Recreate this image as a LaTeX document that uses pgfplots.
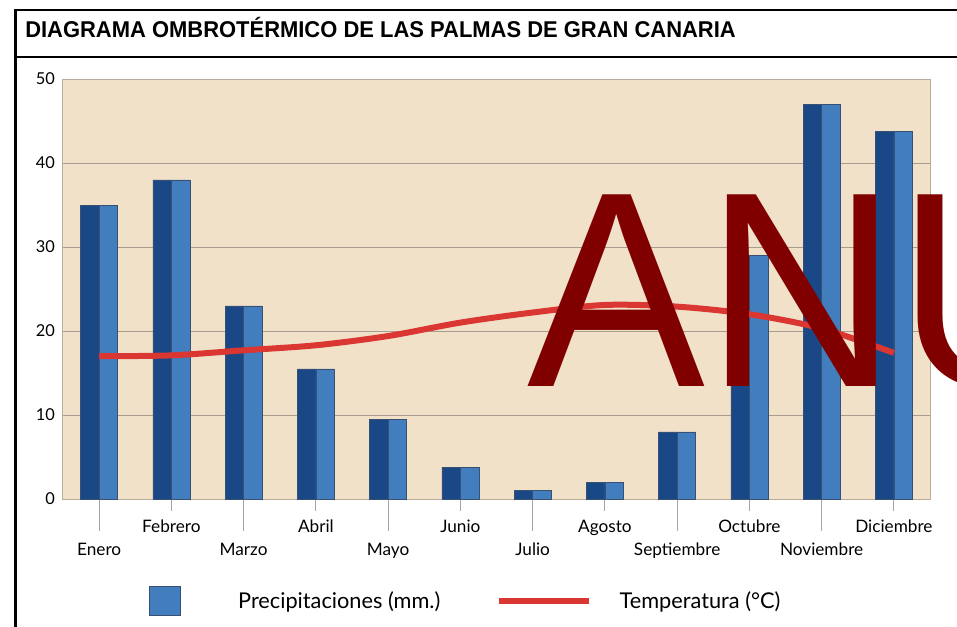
\documentclass[border=0pt]{standalone}
\usepackage{pgfplots}
\pgfplotsset{compat=1.18}
\usepackage{fontspec}
\setmainfont{Lato}
\newfontfamily\titlefont{Liberation Sans}
\newfontfamily\wmfont{Liberation Sans}
\definecolor{bgbeige}{RGB}{242,225,201}
\definecolor{axisc}{RGB}{185,172,156}
\definecolor{gridc}{RGB}{168,156,142}
\definecolor{tickc}{RGB}{165,165,165}
\definecolor{darkblue}{RGB}{26,72,134}
\definecolor{lightblue}{RGB}{66,126,190}
\definecolor{edgeblue}{RGB}{55,80,115}
\definecolor{redline}{RGB}{218,55,50}
\definecolor{wmred}{RGB}{128,0,0}

\begin{document}
\begin{tikzpicture}
\useasboundingbox (0,0) rectangle (717.75pt,469.5pt);
\clip (0,0) rectangle (717.75pt,469.5pt);
% frame and title
\draw[line width=2.2pt] (11.6pt,-10pt) -- (11.6pt,462pt) -- (740pt,462pt);
\draw[line width=2pt] (11.6pt,426.75pt) -- (740pt,426.75pt);
\node[anchor=base west, inner sep=0pt] at (18.75pt,441pt)
  {\scalebox{0.98}[1.02]{\titlefont\bfseries\fontsize{16.8pt}{20pt}\selectfont DIAGRAMA OMBROTÉRMICO DE LAS PALMAS DE GRAN CANARIA}};

\begin{axis}[
  at={(47.25pt,95.25pt)}, anchor=south west,
  scale only axis, width=650.25pt, height=315pt,
  xmin=-0.5, xmax=11.5, ymin=0, ymax=50,
  axis background/.style={fill=bgbeige},
  axis line style={color=axisc, line width=0.75pt},
  ytick={0,10,20,30,40,50},
  ymajorgrids, grid style={color=gridc, line width=0.75pt},
  y tick style={draw=none},
  yticklabel style={font=\fontsize{12.3pt}{14pt}\selectfont, xshift=6.5pt},
  /pgf/number format/assume math mode=true,
  xtick={1,3,5,7,9,11},
  xticklabels={Febrero,Abril,Junio,Agosto,Octubre,Diciembre},
  extra x ticks={0,2,4,6,8,10},
  extra x tick labels={Enero,Marzo,Mayo,Julio,Septiembre,Noviembre},
  xtick pos=bottom, tick align=outside,
  x tick style={color=tickc, line width=0.75pt},
  major tick length=9pt,
  extra x tick style={major tick length=24pt, xticklabel style={yshift=-2.25pt}},
  xticklabel style={anchor=base, yshift=-15.75pt, font=\fontsize{12.9pt}{15pt}\selectfont},
  legend style={at={(0.0992,-0.243)}, anchor=west, draw=none, fill=none,
    inner sep=0pt, legend columns=2, font=\fontsize{16.3pt}{19pt}\selectfont,
    /tikz/column 1/.style={column sep=41pt},
    /tikz/column 2/.style={column sep=40pt},
    /tikz/column 3/.style={column sep=18.5pt}},
]
% Precipitaciones: dark left half
\addplot[ybar, bar width=0.256, bar shift=-0.128, fill=darkblue, draw=edgeblue, line width=0.4pt, forget plot]
  coordinates {(0,35)(1,38)(2,23)(3,15.5)(4,9.5)(5,3.8)(6,1)(7,2)(8,8)(9,29)(10,47)(11,43.8)};
% Precipitaciones: light right half
\addplot[ybar, bar width=0.256, bar shift=0.128, fill=lightblue, draw=edgeblue, line width=0.4pt,
  legend image code/.code={\draw[fill=lightblue, draw=edgeblue, line width=0.4pt] (0pt,-10.9pt) rectangle (23.25pt,10.9pt);}]
  coordinates {(0,35)(1,38)(2,23)(3,15.5)(4,9.5)(5,3.8)(6,1)(7,2)(8,8)(9,29)(10,47)(11,43.8)};
\addlegendentry{Precipitaciones (mm.)}
% Temperatura
\addplot[smooth, color=redline, line width=4.5pt,
  legend image code/.code={\draw[redline, line width=4.5pt] (0pt,0pt) -- (67.5pt,0pt);}]
  coordinates {(0,17)(1,17.1)(2,17.7)(3,18.3)(4,19.4)(5,21)(6,22.2)(7,23.1)(8,22.9)(9,22)(10,20.3)(11,17.4)};
\addlegendentry{Temperatura (°C)}
\end{axis}

% watermark
\node[anchor=base west, inner sep=0pt, text=wmred] at (395.25pt,180pt)
  {\scalebox{1}[1.045]{\wmfont\fontsize{200pt}{200pt}\selectfont ANU}};
\end{tikzpicture}
\end{document}
